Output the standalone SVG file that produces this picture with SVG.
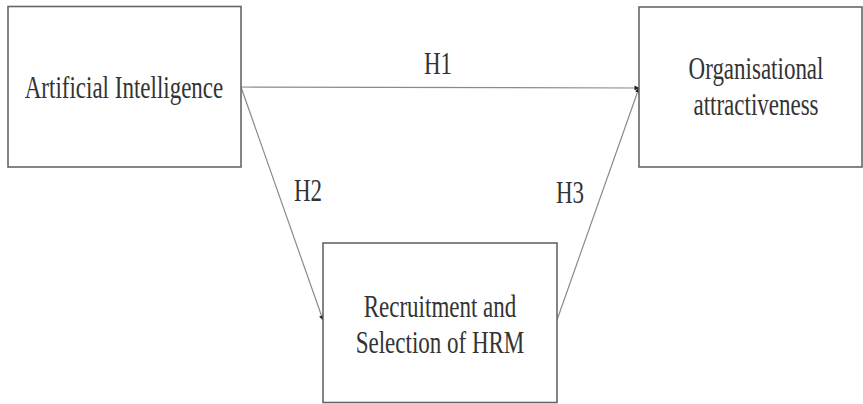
<svg xmlns="http://www.w3.org/2000/svg" width="863" height="404" viewBox="0 0 863 404">
<defs>
<style>
.box{fill:#fff;stroke:#666;stroke-width:1.6}
.conn{stroke:#8a8a8a;stroke-width:1.2;fill:none}
.t{font-family:'Liberation Serif','Times New Roman',serif;font-size:23px;fill:#333;text-anchor:middle}
</style>
<marker id="ah" viewBox="0 0 10 10" refX="9" refY="5" markerWidth="5" markerHeight="5" orient="auto" markerUnits="userSpaceOnUse">
<path d="M0,0 L10,5 L0,10 z" fill="#222"/>
</marker>
</defs>
<rect width="863" height="404" fill="#fff"/>
<g id="connectors">
<line class="conn" x1="241" y1="87" x2="639" y2="88" marker-end="url(#ah)"/>
<line class="conn" x1="241" y1="87" x2="323" y2="320" marker-end="url(#ah)"/>
<line class="conn" x1="557" y1="320" x2="639" y2="88" marker-end="url(#ah)"/>
<text class="t" font-family="Liberation Serif, serif" transform="translate(438,74) scale(1,1.4)">H1</text>
<text class="t" font-family="Liberation Serif, serif" transform="translate(308,201) scale(1,1.4)">H2</text>
<text class="t" font-family="Liberation Serif, serif" transform="translate(570,203) scale(1,1.4)">H3</text>
</g>
<g id="ai">
<rect class="box" x="8" y="6.5" width="233" height="160.5"/>
<text class="t" font-family="Liberation Serif, serif" transform="translate(124,98) scale(1,1.4)">Artificial Intelligence</text>
</g>
<g id="oa">
<rect class="box" x="639" y="7" width="223" height="160"/>
<text class="t" font-family="Liberation Serif, serif" transform="translate(756,79) scale(1,1.4)">Organisational</text>
<text class="t" font-family="Liberation Serif, serif" transform="translate(756,115) scale(1,1.4)">attractiveness</text>
</g>
<g id="rs">
<rect class="box" x="323" y="243" width="234" height="159.5"/>
<text class="t" font-family="Liberation Serif, serif" transform="translate(440,317) scale(1,1.4)">Recruitment and</text>
<text class="t" font-family="Liberation Serif, serif" transform="translate(440,353) scale(1,1.4)">Selection of HRM</text>
</g>
</svg>
